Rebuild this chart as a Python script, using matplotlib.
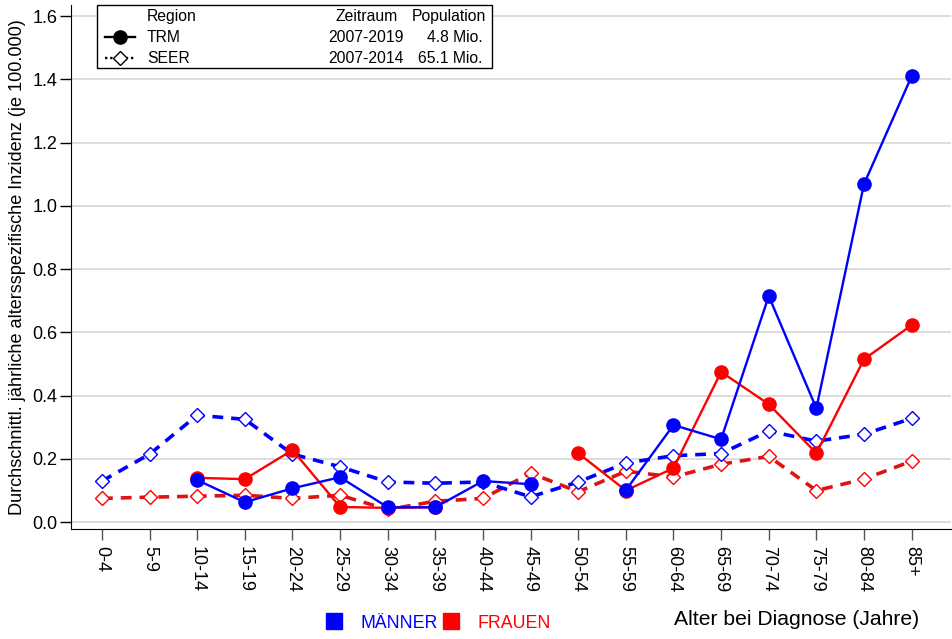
import numpy as np
import matplotlib
matplotlib.use("Agg")
import matplotlib.pyplot as plt
from matplotlib.lines import Line2D
from matplotlib.patches import Rectangle

plt.rcParams['font.family'] = ['Liberation Sans', 'DejaVu Sans']

age_groups = ['0-4', '5-9', '10-14', '15-19', '20-24', '25-29', '30-34', '35-39', '40-44',
              '45-49', '50-54', '55-59', '60-64', '65-69', '70-74', '75-79', '80-84', '85+']
nan = np.nan

# TRM 2007-2019
trm_men = [nan, nan, 0.133, 0.063, 0.107, 0.142, 0.047, 0.047, 0.130, 0.120,
           nan, 0.101, 0.307, 0.262, 0.715, 0.360, 1.069, 1.410]
trm_women = [nan, nan, 0.140, 0.136, 0.228, 0.048, 0.045, 0.047, nan, nan,
             0.218, 0.100, 0.171, 0.475, 0.373, 0.218, 0.515, 0.623]

# SEER 2007-2014
seer_men = [0.130, 0.215, 0.338, 0.325, 0.215, 0.175, 0.127, 0.123, 0.127, 0.080,
            0.127, 0.187, 0.210, 0.217, 0.288, 0.256, 0.278, 0.328]
seer_women = [0.075, 0.079, 0.082, 0.085, 0.075, 0.085, 0.040, 0.066, 0.075, 0.155,
              0.096, 0.161, 0.143, 0.183, 0.208, 0.100, 0.136, 0.193]

regions = ['TRM', 'SEER']
periods = ['2007-2019', '2007-2014']
populations = ['4.8 Mio.', '65.1 Mio.']

BLUE = '#0000FF'
RED = '#FF0000'
RED_D = '#DC1414'

fig = plt.figure(figsize=(9.52, 6.39), dpi=100)
ax = fig.add_axes([0.0746, 0.172, 0.924, 0.82])
x = np.arange(len(age_groups))

# SEER lines (dashed, open diamonds)
ax.plot(x, seer_women, color=RED_D, lw=2.6, ls=(0, (3, 2.2)), marker='D', ms=7,
        mfc='white', mec=RED, mew=1, zorder=3)
ax.plot(x, seer_men, color=BLUE, lw=2.6, ls=(0, (3, 2.2)), marker='D', ms=7,
        mfc='white', mec=BLUE, mew=1, zorder=3)
# TRM lines (solid, filled circles)
ax.plot(x, trm_women, color=RED, lw=1.7, marker='o', ms=9.5, zorder=4)
ax.plot(x, trm_men, color=BLUE, lw=1.7, marker='o', ms=9.5, zorder=4)

ax.set_xlim(-0.65, 17.82)
ax.set_ylim(-0.022, 1.635)
ax.set_yticks(np.arange(0, 1.61, 0.2))
ax.set_yticklabels(['%.1f' % v for v in np.arange(0, 1.61, 0.2)], fontsize=13)
ax.set_xticks(x)
ax.set_xticklabels(age_groups, rotation=270, fontsize=13)
ax.tick_params(axis='y', length=8, width=1, direction='out', pad=2)
ax.tick_params(axis='x', length=8, width=1, color='#555555', direction='out', pad=4)
ax.yaxis.grid(True, color='#DDDDDD', lw=1.4)
ax.set_axisbelow(True)
for s in ['top', 'right']:
    ax.spines[s].set_visible(False)
ax.set_ylabel('Durchschnittl. jährliche altersspezifische Inzidenz (je 100.000)', fontsize=13.1, labelpad=4)

# top legend table
def axx(px):
    return (px - 71) / 879.0

def axy(py):
    return (529 - py) / 524.0

ax.add_patch(Rectangle((axx(97), axy(68)), axx(492) - axx(97), axy(5) - axy(68),
                       transform=ax.transAxes, fill=True, fc='white', ec='black', lw=1,
                       zorder=10, clip_on=False))
tk = dict(transform=ax.transAxes, fontsize=11.3, va='center', zorder=11)
ax.text(axx(147), axy(16), 'Region', ha='left', **tk)
ax.text(axx(397), axy(16), 'Zeitraum', ha='right', **tk)
ax.text(axx(486), axy(16), 'Population', ha='right', **tk)
line_styles = [dict(ls='-', lw=1.7, color='black'),
               dict(ls=(0, (1, 1.2)), lw=1.7, color='black')]
marker_styles = [dict(marker='o', ms=9.5, color='black'),
                 dict(marker='D', ms=7, color='black', mfc='white', mew=1)]
rows = [37, 58]
for reg, per, pop, ls_, mk, py in zip(regions, periods, populations, line_styles, marker_styles, rows):
    ax.add_line(Line2D([axx(105), axx(135)], [axy(py), axy(py)], transform=ax.transAxes,
                       zorder=11, clip_on=False, **ls_))
    ax.add_line(Line2D([axx(120)], [axy(py)], transform=ax.transAxes, ls='none',
                       zorder=12, clip_on=False, **mk))
    ax.text(axx(147), axy(py), reg, ha='left', **tk)
    ax.text(axx(403), axy(py), per, ha='right', **tk)
    ax.text(axx(482), axy(py), pop, ha='right', **tk)

# bottom legend for sex
handles = [Line2D([], [], ls='none', marker='s', ms=12, color=BLUE),
           Line2D([], [], ls='none', marker='s', ms=12, color=RED)]
fig.legend(handles, ['MÄNNER', 'FRAUEN'], ncol=2, frameon=False, loc='center',
           bbox_to_anchor=(0.459, 0.025), fontsize=12.8, labelcolor=[BLUE, RED],
           handletextpad=0.9, columnspacing=0.1, handlelength=1.2)
fig.text(0.965, 0.030, 'Alter bei Diagnose (Jahre)', ha='right', va='center', fontsize=15.2)

fig.savefig('out.png', dpi=100)
